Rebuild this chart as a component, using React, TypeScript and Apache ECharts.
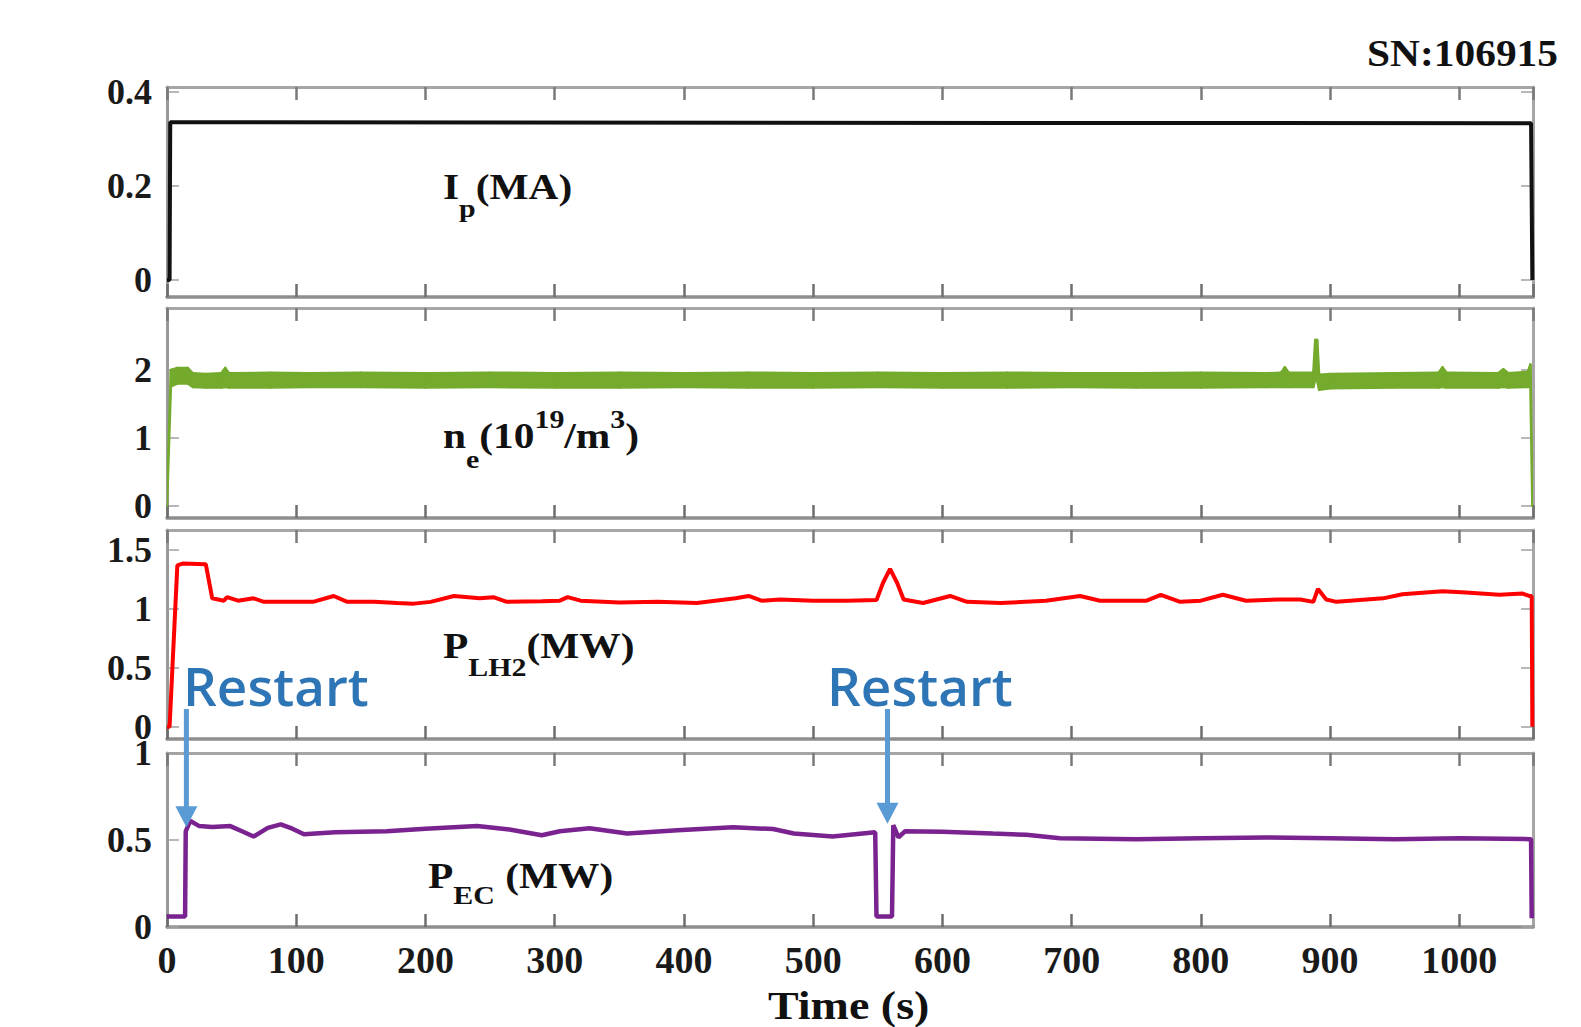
import React, { useEffect, useRef } from "react";
import * as echarts from "echarts";

// ---------- data ----------
const X_MIN = 0;
const X_MAX = 1057;
const X_INTERVAL = 100;

const ipTime = [0, 2, 2.5, 1055.5, 1056.5];
const ipValue = [0, 0, 0.335, 0.333, 0];

// electron density: lower and upper edge of the noisy trace
const neTime = [0, 3, 8, 16, 20, 30, 42, 45, 48, 80, 110, 150, 200, 250, 300, 350, 400, 450, 500, 550, 600, 650, 700, 750, 800, 850, 862, 865, 868, 887, 888.5, 890, 891.5, 900, 950, 984, 987, 990, 1030, 1034, 1038, 1053, 1055, 1056.5];
const neLow = [0, 1.76, 1.8, 1.8, 1.75, 1.74, 1.74, 1.75, 1.74, 1.74, 1.75, 1.75, 1.74, 1.75, 1.74, 1.74, 1.75, 1.74, 1.74, 1.75, 1.74, 1.74, 1.75, 1.74, 1.74, 1.75, 1.75, 1.75, 1.75, 1.75, 1.85, 1.85, 1.71, 1.73, 1.74, 1.74, 1.75, 1.74, 1.74, 1.75, 1.74, 1.75, 1.76, 0];
const neHigh = [0.08, 2.0, 2.03, 2.03, 1.95, 1.94, 1.95, 2.03, 1.95, 1.96, 1.95, 1.96, 1.95, 1.96, 1.95, 1.96, 1.95, 1.96, 1.95, 1.96, 1.95, 1.96, 1.95, 1.95, 1.96, 1.95, 1.96, 2.04, 1.96, 1.96, 2.44, 2.44, 1.93, 1.94, 1.95, 1.96, 2.04, 1.96, 1.95, 2.01, 1.95, 1.97, 2.08, 0.08];

const lhTime = [0, 2, 8, 12, 30, 35, 44, 46.5, 55, 67, 75, 100, 113, 129, 139.5, 160, 178, 191, 204, 222, 242, 252.5, 263, 290, 304, 310, 320, 350, 380, 410, 440, 450, 460, 474.5, 500, 526, 549, 554, 559.5, 565, 570, 585, 606, 619, 645, 680, 706.5, 722, 758, 769, 784, 800, 817, 835, 861, 877, 887, 890.6, 897, 905, 941, 956, 974, 987, 1005, 1031, 1049, 1054, 1056, 1056.5];
const lhValue = [0, 0, 1.37, 1.385, 1.38, 1.09, 1.07, 1.1, 1.07, 1.09, 1.06, 1.06, 1.06, 1.11, 1.06, 1.06, 1.05, 1.045, 1.06, 1.11, 1.09, 1.1, 1.06, 1.065, 1.07, 1.1, 1.07, 1.055, 1.06, 1.05, 1.09, 1.11, 1.07, 1.08, 1.07, 1.07, 1.075, 1.22, 1.34, 1.22, 1.08, 1.05, 1.11, 1.06, 1.05, 1.07, 1.11, 1.07, 1.07, 1.12, 1.06, 1.07, 1.12, 1.07, 1.08, 1.08, 1.06, 1.17, 1.08, 1.06, 1.09, 1.125, 1.14, 1.15, 1.14, 1.12, 1.13, 1.11, 1.11, 0];

const ecTime = [0, 14, 14.5, 18, 25, 35, 49, 58, 67, 78, 88, 97, 106, 130, 170, 200, 240, 265, 290, 304, 327, 356, 395, 438, 469, 485, 515, 548, 549, 561, 562, 566, 571, 600, 639, 665, 691, 750, 800, 850, 900, 950, 1000, 1055.5, 1056];
const ecValue = [0.06, 0.06, 0.55, 0.61, 0.58, 0.575, 0.58, 0.55, 0.52, 0.57, 0.59, 0.565, 0.533, 0.545, 0.55, 0.565, 0.58, 0.56, 0.527, 0.55, 0.567, 0.537, 0.556, 0.573, 0.563, 0.537, 0.52, 0.545, 0.06, 0.06, 0.585, 0.515, 0.55, 0.548, 0.537, 0.53, 0.51, 0.505, 0.51, 0.515, 0.51, 0.505, 0.51, 0.505, 0.05];

// y axis extents and tick labels per panel
const yMins = [-0.036, -0.176, -0.104, 0];
const yMaxs = [0.41, 2.91, 1.67, 1];
const yTicks = [
  [0, 0.2, 0.4],
  [0, 1, 2],
  [0, 0.5, 1, 1.5],
  [0, 0.5, 1],
];

// restart annotations: time and arrow tip value (PEC panel)
const restartTimes = [15, 557.5];
const restartTipValues = [0.573, 0.593];

// ---------- styles ----------
const SERIF = '"Liberation Serif", "Times New Roman", serif';
const GREEN = "#74ab2d";
const PURPLE = "#7a228f";
const ARROW = "#5b9bd5";
const RESTART = "#2e75b6";

const GRIDS = [
  { left: 167, right: 48, top: 87, height: 210 },
  { left: 167, right: 48, top: 308, height: 210 },
  { left: 167, right: 48, top: 530, height: 209 },
  { left: 167, right: 48, top: 753, height: 174 },
];

function pairs(xs: number[], ys: number[]) {
  return xs.map((x, i) => [x, ys[i]]);
}

export default function App() {
  const ref = useRef<HTMLDivElement>(null);

  useEffect(() => {
    const el = ref.current;
    if (!el) return;
    const chart = echarts.init(el, undefined, { renderer: "svg" });

    const xAxes: any[] = [];
    const yAxes: any[] = [];
    GRIDS.forEach((_, i) => {
      const baseX = {
        type: "value",
        gridIndex: i,
        min: X_MIN,
        max: X_MAX,
        interval: X_INTERVAL,
        splitLine: { show: false },
      };
      xAxes.push({
        ...baseX,
        position: "bottom",
        axisLine: { show: true, onZero: false, lineStyle: { color: "#8e8e8e", width: 3.5 } },
        axisTick: { show: true, inside: true, length: 13, lineStyle: { color: "#6e6e6e", width: 2.5 } },
        axisLabel: {
          show: i === 3,
          margin: 14,
          fontFamily: SERIF,
          fontWeight: "bold",
          fontSize: 38,
          color: "#1a1a1a",
          formatter: (v: number) => String(v),
        },
      });
      xAxes.push({
        ...baseX,
        position: "top",
        axisLine: { show: true, onZero: false, lineStyle: { color: "#a6a6a6", width: 3 } },
        axisTick: { show: true, inside: true, length: 13, lineStyle: { color: "#7a7a7a", width: 2.5 } },
        axisLabel: { show: false },
      });
      const baseY = {
        type: "value",
        gridIndex: i,
        min: yMins[i],
        max: yMaxs[i],
        splitLine: { show: false },
      };
      yAxes.push({
        ...baseY,
        position: "left",
        axisLine: { show: true, onZero: false, lineStyle: { color: "#999", width: 3 } },
        axisTick: { show: true, inside: true, length: 12, customValues: yTicks[i], lineStyle: { color: "#a0a0a0", width: 1.5 } },
        axisLabel: {
          show: true,
          customValues: yTicks[i],
          showMinLabel: true,
          showMaxLabel: true,
          margin: 15,
          fontFamily: SERIF,
          fontWeight: "bold",
          fontSize: 36,
          color: "#1a1a1a",
          formatter: (v: number) => String(v),
        },
      });
      yAxes.push({
        ...baseY,
        position: "right",
        axisLine: { show: true, onZero: false, lineStyle: { color: "#a6a6a6", width: 3 } },
        axisTick: { show: true, inside: true, length: 12, customValues: yTicks[i], lineStyle: { color: "#a0a0a0", width: 1.5 } },
        axisLabel: { show: false },
      });
    });

    const lineBase = { type: "line", symbol: "none", showSymbol: false, silent: true };

    chart.setOption({
      animation: false,
      backgroundColor: "#ffffff",
      grid: GRIDS,
      xAxis: xAxes,
      yAxis: yAxes,
      series: [
        {
          ...lineBase,
          name: "Ip",
          xAxisIndex: 0,
          yAxisIndex: 0,
          data: pairs(ipTime, ipValue),
          lineStyle: { color: "#111", width: 4 },
        },
        {
          type: "custom",
          name: "ne",
          silent: true,
          coordinateSystem: "cartesian2d",
          xAxisIndex: 2,
          yAxisIndex: 2,
          clip: true,
          data: neTime.map((t, i) => [t, neLow[i], neHigh[i]]),
          encode: { x: 0, y: [1, 2] },
          renderItem: (params: any, api: any) => {
            const i = params.dataIndex;
            if (i === 0) return null;
            const p1 = api.coord([neTime[i - 1], neHigh[i - 1]]);
            const p2 = api.coord([api.value(0), api.value(2)]);
            const p3 = api.coord([api.value(0), api.value(1)]);
            const p4 = api.coord([neTime[i - 1], neLow[i - 1]]);
            return {
              type: "polygon",
              shape: { points: [p1, p2, p3, p4] },
              style: { fill: GREEN, stroke: GREEN, lineWidth: 2.5, lineJoin: "round" },
            };
          },
        },
        {
          ...lineBase,
          name: "PLH2",
          xAxisIndex: 4,
          yAxisIndex: 4,
          data: pairs(lhTime, lhValue),
          lineStyle: { color: "#ff0000", width: 4 },
        },
        {
          ...lineBase,
          name: "PEC",
          xAxisIndex: 6,
          yAxisIndex: 6,
          data: pairs(ecTime, ecValue),
          lineStyle: { color: PURPLE, width: 4.5 },
        },
      ],
    });

    const mk = (x: number, y: number, text: string, rich: any) => ({
      type: "text",
      x,
      y,
      scaleX: 1.15,
      z: 20,
      style: {
        text,
        rich,
        fill: "#111",
        align: "left",
        verticalAlign: "middle",
        fontFamily: SERIF,
        fontWeight: "bold",
        fontSize: 36,
      },
    });
    const M = { fontFamily: SERIF, fontWeight: "bold", fontSize: 36, fill: "#111" };
    const subStyle = (pt: number) => ({ fontFamily: SERIF, fontWeight: "bold", fontSize: 26, fill: "#111", padding: [pt, 0, 0, 0] });
    const supStyle = (pb: number) => ({ fontFamily: SERIF, fontWeight: "bold", fontSize: 26, fill: "#111", padding: [0, 0, pb, 0] });

    const graphics: any[] = [
      mk(443, 186.5, "{m|I}{s|p}{m|(MA)}", { m: M, s: subStyle(43) }),
      mk(443, 435, "{m|n}{s|e}{m|(10}{u|19}{m|/m}{u|3}{m|)}", { m: M, s: subStyle(48), u: supStyle(32) }),
      mk(443, 645, "{m|P}{s|LH2}{m|(MW)}", { m: M, s: subStyle(45) }),
      mk(428, 875, "{m|P}{s|EC}{m| (MW)}", { m: M, s: subStyle(40) }),
      {
        type: "text",
        x: 1558,
        y: 54,
        scaleX: 1.09,
        z: 20,
        style: { text: "SN:106915", fill: "#111", align: "right", verticalAlign: "middle", fontFamily: SERIF, fontWeight: "bold", fontSize: 38 },
      },
      {
        type: "text",
        x: 768,
        y: 1005.5,
        scaleX: 1.15,
        z: 20,
        style: { text: "Time (s)", fill: "#111", align: "left", verticalAlign: "middle", fontFamily: SERIF, fontWeight: "bold", fontSize: 40 },
      },
    ];

    const restartTextX = [183, 827];
    restartTimes.forEach((t, i) => {
      const p = chart.convertToPixel({ seriesIndex: 3 }, [t, restartTipValues[i]]) as number[];
      const x = p[0];
      const tipY = p[1];
      graphics.push({
        type: "line",
        z: 30,
        shape: { x1: x, y1: 709, x2: x, y2: tipY - 18 },
        style: { stroke: ARROW, lineWidth: 5 },
      });
      graphics.push({
        type: "polygon",
        z: 30,
        shape: { points: [[x - 11, tipY - 21], [x + 11, tipY - 21], [x, tipY]] },
        style: { fill: ARROW },
      });
      graphics.push({
        type: "text",
        x: restartTextX[i],
        y: 685,
        z: 30,
        style: {
          text: "Restart",
          fill: RESTART,
          align: "left",
          verticalAlign: "middle",
          fontFamily: '"Open Sans", "Noto Sans", sans-serif',
          fontWeight: 600,
          fontSize: 53,
        },
      });
    });

    chart.setOption({ graphic: graphics });

    return () => {
      chart.dispose();
    };
  }, []);

  return (
    <div
      ref={ref}
      style={{ position: "absolute", left: 0, top: 0, width: 1581, height: 1027, background: "#fff" }}
    />
  );
}
